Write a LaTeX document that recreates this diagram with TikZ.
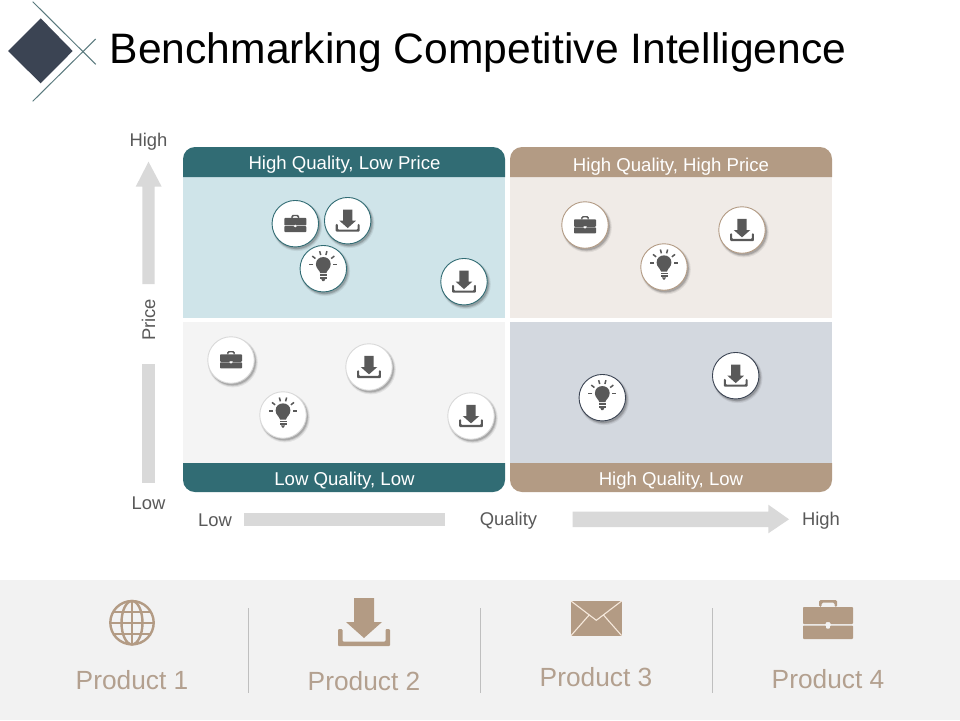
\documentclass[tikz,border=0pt]{standalone}
\usepackage{fontspec}
\setmainfont{Liberation Sans}
\definecolor{tealh}{HTML}{316C74}
\definecolor{tanh}{HTML}{B39B84}
\definecolor{tlbody}{HTML}{CFE4E9}
\definecolor{trbody}{HTML}{F0EBE7}
\definecolor{blbody}{HTML}{F4F4F4}
\definecolor{brbody}{HTML}{D3D8DF}
\definecolor{arrowgray}{HTML}{D9D9D9}
\definecolor{txtgray}{HTML}{595959}
\definecolor{dkslate}{HTML}{3B4453}
\definecolor{logoline}{HTML}{5A7A7E}
\definecolor{bandgray}{HTML}{F2F2F2}
\definecolor{prodtxt}{HTML}{B3A08F}
\definecolor{sepgray}{HTML}{BFBFBF}
\definecolor{mailline}{HTML}{F6E9DC}
\tikzset{
  dlicon/.pic={
    \fill[#1] (-10,-24) -- (10,-24) -- (10,0) -- (18,0) -- (0,16) -- (-18,0) -- (-10,0) -- cycle;
    \fill[#1,rounded corners=1] (-26,7) -- (-26,24) -- (26,24) -- (26,7) -- (21.5,7) -- (21.5,19.5) -- (-21.5,19.5) -- (-21.5,7) -- cycle;
  },
  caseicon/.pic={
    \fill[#1,even odd rule,rounded corners=1.5] (-9,-13) -- (-9,-20) -- (9,-20) -- (9,-13) -- (6.5,-13) -- (6.5,-17.5) -- (-6.5,-17.5) -- (-6.5,-13) -- cycle;
    \fill[#1,rounded corners=0.8] (-25,4) -- (-25,-13) -- (25,-13) -- (25,4) -- (2.2,4) -- (2.2,2) -- (-2.2,2) -- (-2.2,4) -- cycle;
    \fill[#1,rounded corners=0.8] (-25,5.5) -- (-25,19) -- (25,19) -- (25,5.5) -- (2.2,5.5) -- (2.2,8.5) -- (-2.2,8.5) -- (-2.2,5.5) -- cycle;
  },
  bulbicon/.pic={
    \fill[#1] (-3,4.5) .. controls (-3.5,1.5) and (-7.4,0) .. (-7.4,-4.5) .. controls (-7.4,-14) and (7.4,-14) .. (7.4,-4.5) .. controls (7.4,0) and (3.5,1.5) .. (3,4.5) -- cycle;
    \fill[#1] (-3.5,5.5) rectangle (3.5,7.3);
    \fill[#1] (-3.5,8) rectangle (3.5,9.8);
    \fill[#1] (-2,10.4) -- (2,10.4) -- (0.8,12.5) -- (-0.8,12.5) -- cycle;
    \foreach \a in {0,-38,-75,-105,-142,-180}
      \draw[#1,line width=1.5] (0,-4) ++(\a:10) -- ++(\a:4);
  },
  globeicon/.pic={
    \begin{scope}[#1,line width=2.4]
      \draw (0,0) circle[radius=21.7];
      \draw (0,0) ellipse[x radius=10.5,y radius=21.7];
      \draw (0,-21.7) -- (0,21.7);
      \draw (-21.7,0) -- (21.7,0);
      \draw (-18.5,-11) -- (18.5,-11);
      \draw (-18.5,11) -- (18.5,11);
    \end{scope}
  },
  mailicon/.pic={
    \fill[#1] (-25.3,-17.3) rectangle (25.3,17.3);
    \draw[mailline,line width=1.1] (-25.3,-17.3) -- (0,2) -- (25.3,-17.3);
    \draw[mailline,line width=1.1] (-25.3,17.3) -- (-7,-3.5);
    \draw[mailline,line width=1.1] (25.3,17.3) -- (7,-3.5) ;
  },
  hdr/.style={text=white,font=\fontsize{18.6}{22}\selectfont,inner sep=0pt,anchor=center},
  axislbl/.style={text=txtgray,font=\fontsize{18.4}{21}\selectfont,inner sep=0pt,anchor=center},
  prodlbl/.style={text=prodtxt,font=\fontsize{26.3}{32}\selectfont,inner sep=0pt,anchor=center},
  axisbar/.style={fill=arrowgray,draw=none},
  sepline/.style={draw=sepgray,line width=0.9},
  logoln/.style={draw=logoline,line width=1},
  dot/.style={circle,fill=white,draw=#1,line width=.9,minimum size=46.5,inner sep=0pt},
}
\newcommand{\shad}[2]{%
  \fill[black,opacity=.07] (#1+1.8,#2+2.4) circle[radius=25];
  \fill[black,opacity=.10] (#1+1.6,#2+2.1) circle[radius=24.2];
  \fill[black,opacity=.16] (#1+1.3,#2+1.8) circle[radius=23.6];
}
\begin{document}
\begin{tikzpicture}[x=1pt,y=-1pt]
\useasboundingbox (0,0) rectangle (960,720);
\fill[white] (0,0) rectangle (960,720);
% logo
\fill[dkslate] (8,51) -- (40.7,18.3) -- (72.7,51) -- (40.7,83.3) -- cycle;
\coordinate (la) at (32.7,1.7); \coordinate (lb) at (95.7,64.3);
\coordinate (lc) at (95.7,39); \coordinate (ld) at (32.7,101.3);
\draw[logoln] (la) -- (lb);
\draw[logoln] (lc) -- (ld);
\node[anchor=center,inner sep=0pt,text=black,font=\fontsize{42.6}{50}\selectfont] (title) at (478,52.5) {Benchmarking Competitive Intelligence};
% quadrant bodies
\fill[tlbody] (183,177) rectangle (505,318);
\fill[trbody] (510,177) rectangle (832,318);
\fill[blbody] (183,322) rectangle (505,463);
\fill[brbody] (510,322) rectangle (832,463);
% headers
\fill[tealh] (183,177) [rounded corners=12] -- (183,147) -- (505,147) [sharp corners] -- (505,177) -- cycle;
\fill[tanh] (510,177) [rounded corners=12] -- (510,147) -- (832,147) [sharp corners] -- (832,177) -- cycle;
\fill[tealh] (183,463) [rounded corners=12] -- (183,492) -- (505,492) [sharp corners] -- (505,463) -- cycle;
\fill[tanh] (510,463) [rounded corners=12] -- (510,492) -- (832,492) [sharp corners] -- (832,463) -- cycle;
\node[hdr] (h1) at (344.5,164.5) {High Quality, Low Price};
\node[hdr] (h2) at (671,166.5) {High Quality, High Price};
\node[hdr] (h3) at (344.5,480.5) {Low Quality, Low};
\node[hdr] (h4) at (671,480.5) {High Quality, Low};
% axes
\fill[axisbar] (142.3,284) -- (142.3,186.7) -- (135.7,186.7) -- (148.5,161.7) -- (161.7,186.7) -- (154.7,186.7) -- (154.7,284) -- cycle;
\fill[axisbar] (142.3,364) rectangle (154.7,482.7);
\fill[axisbar] (244,513) rectangle (445,526);
\fill[axisbar] (572.7,511.7) -- (768.3,511.7) -- (768.3,504.7) -- (789,519.3) -- (768.3,533.3) -- (768.3,527) -- (572.7,527) -- cycle;
\node[axislbl] (yh) at (148.5,141.5) {High};
\node[axislbl] (yl) at (148.5,503) {Low};
\node[axislbl,rotate=90] (yp) at (148.5,320) {Price};
\node[axislbl] (xl) at (215,520) {Low};
\node[axislbl] (xq) at (508.5,520.5) {Quality};
\node[axislbl] (xh) at (821,520.5) {High};
% markers
\shad{295.3}{223.7}\node[dot=tealh] (a1) at (295.3,223.7) {};
\pic[scale=.44] at (295.3,223.7) {caseicon=txtgray};
\shad{347.7}{220.7}\node[dot=tealh] (a2) at (347.7,220.7) {};
\pic[scale=.46] at (347.7,220.7) {dlicon=txtgray};
\shad{323.3}{268.7}\node[dot=tealh] (a3) at (323.3,268.7) {};
\pic at (323.3,268.7) {bulbicon=txtgray};
\shad{464}{281.7}\node[dot=tealh] (a4) at (464,281.7) {};
\pic[scale=.46] at (464,281.7) {dlicon=txtgray};
\shad{585}{225}\node[dot=tanh] (b1) at (585,225) {};
\pic[scale=.44] at (585,225) {caseicon=txtgray};
\shad{664}{267}\node[dot=tanh] (b2) at (664,267) {};
\pic at (664,267) {bulbicon=txtgray};
\shad{742}{230}\node[dot=tanh] (b3) at (742,230) {};
\pic[scale=.46] at (742,230) {dlicon=txtgray};
\shad{231}{360}\node[dot=arrowgray] (c1) at (231,360) {};
\pic[scale=.44] at (231,360) {caseicon=txtgray};
\shad{369}{367}\node[dot=arrowgray] (c2) at (369,367) {};
\pic[scale=.46] at (369,367) {dlicon=txtgray};
\shad{283}{415}\node[dot=arrowgray] (c3) at (283,415) {};
\pic at (283,415) {bulbicon=txtgray};
\shad{471}{416}\node[dot=arrowgray] (c4) at (471,416) {};
\pic[scale=.46] at (471,416) {dlicon=txtgray};
\shad{602.3}{397.7}\node[dot=dkslate] (d1) at (602.3,397.7) {};
\pic at (602.3,397.7) {bulbicon=txtgray};
\shad{735.7}{375.7}\node[dot=dkslate] (d2) at (735.7,375.7) {};
\pic[scale=.46] at (735.7,375.7) {dlicon=txtgray};
% band
\fill[bandgray] (0,580) rectangle (960,720);
\draw[sepline] (248.3,608) -- (248.3,693);
\draw[sepline] (480.3,608) -- (480.3,693);
\draw[sepline] (712.3,608) -- (712.3,693);
\pic at (132,622.7) {globeicon=tanh};
\pic at (364,622) {dlicon=tanh};
\pic at (596.3,618.3) {mailicon=tanh};
\pic at (828,620) {caseicon=tanh};
\node[prodlbl] (p1) at (132,680) {Product 1};
\node[prodlbl] (p2) at (364,681) {Product 2};
\node[prodlbl] (p3) at (596,677) {Product 3};
\node[prodlbl] (p4) at (828,679) {Product 4};
\end{tikzpicture}
\end{document}
